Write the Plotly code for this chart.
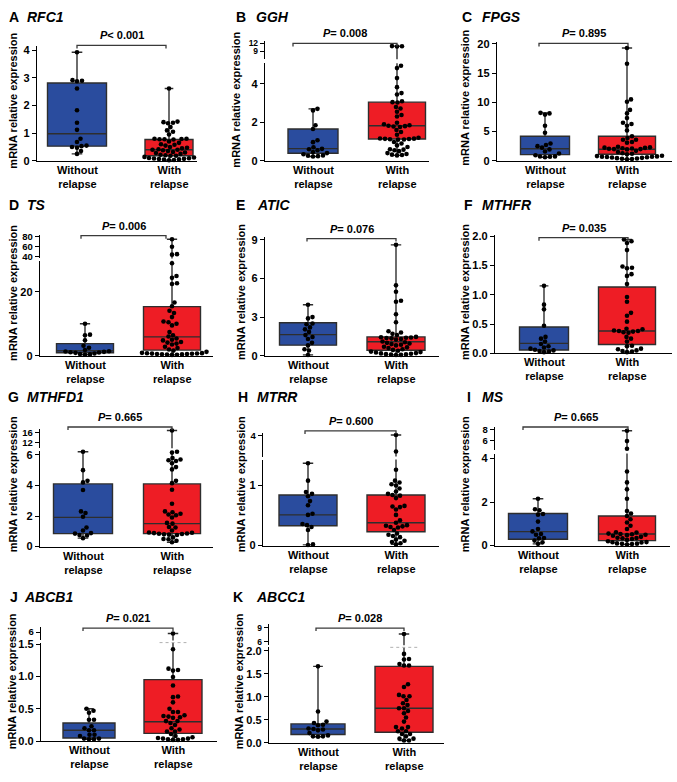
import numpy as np
import plotly.graph_objects as go

W, H = 677, 782
FONT = "Liberation Sans, Arial, Helvetica, sans-serif"

genes = ["RFC1", "GGH", "FPGS", "TS", "ATIC", "MTHFR", "MTHFD1", "MTRR", "MS", "ABCB1", "ABCC1"]
letters = ["A", "B", "C", "D", "E", "F", "G", "H", "I", "J", "K"]
p_texts = ["< 0.001", "= 0.008", "= 0.895", "= 0.006", "= 0.076", "= 0.035",
           "= 0.665", "= 0.600", "= 0.665", "= 0.021", "= 0.028"]
categories = ["Without<br>relapse", "With<br>relapse"]
y_title = "mRNA relative expression"

# ---------------- data ----------------
rfc1_without = [3.93, 2.92, 2.90, 2.88, 2.62, 1.83, 1.38, 1.12, 0.80, 0.68, 0.55, 0.53, 0.50, 0.47, 0.35, 0.25]
rfc1_with = [2.62, 1.42, 1.40, 1.38, 1.36, 1.22, 1.10, 1.05, 0.95, 0.80, 0.80, 0.79, 0.78, 0.78, 0.77, 0.70,
             0.65, 0.60, 0.58, 0.55, 0.50, 0.47, 0.45, 0.42, 0.40, 0.40, 0.38, 0.35, 0.32, 0.30, 0.28, 0.25,
             0.22, 0.20, 0.18, 0.18, 0.16, 0.14, 0.12, 0.10, 0.09, 0.08, 0.07, 0.06, 0.05, 0.04, 0.03, 0.02]
ggh_without = [2.70, 2.62, 1.85, 1.65, 1.07, 0.97, 0.70, 0.62, 0.60, 0.55, 0.46, 0.40, 0.34, 0.28, 0.26, 0.24, 0.22]
ggh_with = [11.0, 10.95, 10.85, 4.94, 4.82, 4.30, 3.83, 3.52, 3.45, 3.10, 3.05, 3.03, 2.80, 2.72, 2.55, 2.38,
            2.30, 1.98, 1.90, 1.85, 1.82, 1.80, 1.78, 1.76, 1.60, 1.50, 1.35, 1.20, 1.16, 1.15, 1.14, 1.13,
            1.12, 1.11, 1.10, 0.98, 0.90, 0.80, 0.72, 0.60, 0.58, 0.55, 0.50, 0.40, 0.35, 0.32, 0.30, 0.28]
fpgs_without = [8.2, 8.1, 7.9, 6.0, 4.8, 2.95, 2.7, 2.5, 2.25, 1.95, 1.6, 1.25, 0.95, 0.75, 0.72, 0.68, 0.6]
fpgs_with = [19.3, 16.6, 10.5, 10.1, 8.7, 8.1, 7.3, 6.5, 6.3, 6.0, 5.2, 4.2, 3.9, 3.6, 3.6, 3.2, 3.1, 2.4,
             2.3, 2.25, 2.2, 2.15, 2.1, 2.05, 2.0, 2.0, 1.95, 1.7, 1.5, 1.3, 1.2, 1.1, 0.85, 0.8, 0.75, 0.7,
             0.7, 0.65, 0.6, 0.55, 0.5, 0.45, 0.4, 0.35, 0.3, 0.25]
ts_without = [10.0, 6.6, 6.4, 4.85, 3.1, 2.5, 1.75, 1.4, 1.3, 1.2, 1.1, 1.0, 0.9, 0.7, 0.5, 0.4, 0.3]
ts_with = [75.0, 60.0, 45.5, 44.5, 29.0, 25.0, 24.4, 22.7, 22.5, 16.7, 15.5, 14.1, 13.4, 12.1, 10.7, 10.5,
           10.0, 9.5, 7.4, 6.4, 6.0, 5.4, 5.0, 4.8, 4.3, 4.1, 3.8, 3.5, 2.8, 2.4, 1.96, 1.6, 1.2, 0.9, 0.8,
           0.75, 0.7, 0.65, 0.6, 0.55, 0.5, 0.45, 0.4, 0.35, 0.3, 0.25]
atic_without = [3.96, 3.0, 2.9, 2.5, 2.45, 2.2, 2.05, 1.85, 1.6, 1.45, 1.3, 1.0, 0.8, 0.5, 0.4, 0.05]
atic_with = [8.62, 5.47, 4.97, 4.27, 4.2, 3.22, 2.6, 1.9, 1.8, 1.7, 1.6, 1.46, 1.44, 1.42, 1.4, 1.38, 1.35,
             1.3, 1.25, 1.1, 1.05, 1.0, 0.95, 0.9, 0.85, 0.8, 0.7, 0.65, 0.6, 0.5, 0.45, 0.38, 0.32, 0.28,
             0.25, 0.2, 0.18, 0.15, 0.12, 0.1, 0.08, 0.06, 0.05]
mthfr_without = [1.15, 0.83, 0.75, 0.47, 0.28, 0.25, 0.2, 0.16, 0.12, 0.1, 0.08, 0.06, 0.05, 0.04, 0.03, 0.02]
mthfr_with = [1.94, 1.91, 1.88, 1.76, 1.48, 1.46, 1.45, 1.35, 1.32, 1.18, 0.96, 0.88, 0.69, 0.64, 0.54, 0.42,
              0.41, 0.39, 0.38, 0.38, 0.37, 0.36, 0.35, 0.28, 0.25, 0.2, 0.13, 0.12, 0.08, 0.07, 0.05, 0.04,
              0.03, 0.02]
mthfd1_without = [6.2, 5.0, 4.3, 4.2, 3.7, 2.3, 2.2, 1.95, 1.25, 1.05, 0.88, 0.85, 0.75, 0.72, 0.55]
mthfd1_with = [17.0, 6.2, 6.15, 5.8, 5.7, 5.65, 5.6, 5.45, 5.2, 5.05, 4.3, 4.15, 3.72, 2.8, 2.3, 2.25, 2.15,
               2.1, 2.05, 1.9, 1.55, 1.5, 1.28, 1.25, 1.05, 0.92, 0.9, 0.88, 0.86, 0.84, 0.82, 0.8, 0.78,
               0.76, 0.6, 0.5, 0.48, 0.38, 0.28]
mtrr_without = [1.37, 1.08, 0.89, 0.86, 0.82, 0.74, 0.67, 0.53, 0.51, 0.36, 0.34, 0.31, 0.26, 0.02, 0.01]
mtrr_with = [4.05, 2.1, 1.26, 1.08, 1.05, 1.02, 1.0, 0.95, 0.9, 0.86, 0.84, 0.83, 0.79, 0.66, 0.65, 0.64,
             0.6, 0.51, 0.42, 0.38, 0.34, 0.33, 0.32, 0.31, 0.3, 0.26, 0.2, 0.18, 0.16, 0.14, 0.1, 0.08,
             0.06, 0.04, 0.02]
ms_without = [2.15, 1.67, 1.62, 1.45, 1.42, 1.1, 0.76, 0.65, 0.53, 0.5, 0.35, 0.33, 0.23, 0.15, 0.08]
ms_with = [7.8, 5.9, 4.5, 3.4, 2.9, 2.58, 2.15, 1.59, 1.47, 1.36, 1.21, 1.06, 0.91, 0.76, 0.61, 0.6, 0.55,
           0.53, 0.52, 0.5, 0.48, 0.45, 0.4, 0.36, 0.35, 0.34, 0.3, 0.26, 0.2, 0.16, 0.15, 0.14, 0.1, 0.09,
           0.08, 0.07, 0.05]
abcb1_without = [0.5, 0.47, 0.44, 0.33, 0.33, 0.23, 0.2, 0.17, 0.17, 0.1, 0.1, 0.08, 0.04, 0.04, 0.03, 0.03]
abcb1_with = [5.6, 1.42, 1.12, 1.1, 1.09, 0.99, 0.86, 0.69, 0.68, 0.6, 0.5, 0.45, 0.45, 0.4, 0.39, 0.38,
              0.37, 0.36, 0.31, 0.31, 0.28, 0.25, 0.2, 0.18, 0.15, 0.15, 0.11, 0.08, 0.06, 0.05, 0.04,
              0.04, 0.03, 0.03, 0.02, 0.02]
abcc1_without = [1.66, 0.68, 0.46, 0.43, 0.39, 0.38, 0.31, 0.3, 0.29, 0.27, 0.21, 0.16, 0.14, 0.14, 0.13]
abcc1_with = [7.7, 1.93, 1.82, 1.81, 1.71, 1.68, 1.68, 1.27, 1.21, 1.04, 1.01, 1.01, 0.93, 0.86, 0.82, 0.75,
              0.75, 0.69, 0.64, 0.55, 0.46, 0.34, 0.34, 0.31, 0.25, 0.25, 0.19, 0.19, 0.14, 0.09, 0.09,
              0.05, 0.05]

# box statistics [q1, median, q3]
box_without = [[0.53, 0.98, 2.82], [0.39, 0.63, 1.65], [1.06, 2.07, 4.2], [0.93, 1.55, 3.8],
               [0.82, 1.64, 2.56], [0.056, 0.17, 0.45], [0.85, 1.91, 4.1], [0.33, 0.51, 0.84],
               [0.29, 0.64, 1.47], [0.05, 0.17, 0.28], [0.18, 0.30, 0.41]]
box_with = [[0.18, 0.40, 0.77], [1.13, 1.82, 3.05], [1.12, 1.96, 4.2], [1.75, 5.9, 15.4],
            [0.42, 1.08, 1.46], [0.15, 0.38, 1.13], [0.85, 1.5, 4.1], [0.23, 0.38, 0.84],
            [0.23, 0.53, 1.36], [0.12, 0.30, 0.95], [0.23, 0.75, 1.66]]

values_without = [rfc1_without, ggh_without, fpgs_without, ts_without, atic_without, mthfr_without,
                  mthfd1_without, mtrr_without, ms_without, abcb1_without, abcc1_without]
values_with = [rfc1_with, ggh_with, fpgs_with, ts_with, atic_with, mthfr_with,
               mthfd1_with, mtrr_with, ms_with, abcb1_with, abcc1_with]

# lower / upper axis segments (value ranges) and ticks
lower_ticks = [[0, 1, 2, 3, 4], [0, 2, 4], [0, 5, 10, 15, 20], [0, 20], [0, 3, 6, 9],
               [0, 0.5, 1.0, 1.5, 2.0], [0, 2, 4, 6], [0, 1], [0, 2, 4], [0, 0.5, 1.0, 1.5],
               [0, 0.5, 1.0, 1.5, 2.0]]
upper_ranges = [None, [6.0, 12.75], None, [37.1, 82.9], None, None, [9.8, 17.6], [1.5, 4.3],
                [4.2, 8.45], [3.5, 7.5], [5.27, 9.8]]
upper_ticks = [None, [9, 12], None, [40, 60, 80], None, None, [12, 16], [4], [6, 8], [6], [6, 9]]
upper_tick_size = [None, 8.5, None, 9.5, None, None, 9.5, 9.5, 9.5, 9.5, 8.5]
tick_formats = ["", "", "", "", "", ".1f", "", "", "", ".1f", ".1f"]

# ---------------- layout geometry (pixels) ----------------
geom = [
    dict(ax=(37, 197), c=(77, 169), w=(59, 48), zero=158, scale=28, ltop=42, up=None,
         br=(77, 166, 41), title=(7, 25, 12), yt=(13, 97)),
    dict(ax=(265, 429), c=(313, 397), w=(50, 57), zero=158, scale=19.5, ltop=59, up=(55, 37),
         br=(293, 397, 39), title=(234, 254, 12), yt=(236, 96)),
    dict(ax=(497, 672), c=(545, 627), w=(49, 57), zero=158, scale=5.93, ltop=38, up=None,
         br=(539, 628, 39), title=(460, 480, 12), yt=(465, 94)),
    dict(ax=(40, 213), c=(85, 172), w=(57, 57), zero=355.7, scale=3.235, ltop=259.5, up=(257, 233.5),
         br=(81, 166, 234), title=(7, 25, 203), yt=(13, 292)),
    dict(ax=(265, 439), c=(308, 396), w=(57, 58), zero=355.7, scale=13.04, ltop=235, up=None,
         br=(307, 396, 237), title=(234, 255, 203), yt=(241, 291)),
    dict(ax=(495, 672), c=(544, 627), w=(49, 57), zero=353.3, scale=59.5, ltop=233, up=None,
         br=(539, 628, 236), title=(462, 480, 203), yt=(465, 291)),
    dict(ax=(40, 213), c=(83, 172), w=(59, 57), zero=549.3, scale=15.5, ltop=452, up=(449.5, 430),
         br=(68, 172, 428), title=(6, 25, 398), yt=(13, 486)),
    dict(ax=(263, 439), c=(308, 396), w=(58, 58), zero=548.3, scale=61, ltop=461, up=(458, 434),
         br=(305, 396, 432), title=(236, 255, 398), yt=(241, 486)),
    dict(ax=(495, 670), c=(538, 627), w=(59, 57), zero=548.3, scale=22.1, ltop=455, up=(451.7, 428.3),
         br=(523, 628, 428), title=(465, 480, 398), yt=(465, 486)),
    dict(ax=(41, 217), c=(89, 173), w=(52, 58), zero=746.7, scale=65.7, ltop=646.7, up=(644.5, 631),
         br=(83, 173, 632), title=(8, 22, 600), yt=(12, 686), dotted=True),
    dict(ax=(269, 444), c=(318, 404), w=(54, 58), zero=748.3, scale=46.7, ltop=651.5, up=(649.5, 628),
         br=(316, 404, 632), title=(231, 254, 600), yt=(239, 686), dotted=True),
]

BLUE = "#2a4c9e"
RED = "#ee1d25"
LINE = "#2e2e2e"
DOT_D = 4.6


def px_x(p):
    return p / W


def px_y(p):
    return 1 - p / H


def swarm(vals, ypx, d):
    """Greedy beeswarm: horizontal pixel offsets so that dots do not overlap."""
    order = np.argsort(vals, kind="stable")
    placed = []
    offs = np.zeros(len(vals))
    cands = [0.0]
    for j in range(1, 400):
        cands += [j * 0.5, -j * 0.5]
    for i in order:
        y = ypx(vals[i])
        for c in cands:
            if all((c - px) ** 2 + (y - py) ** 2 >= d * d for px, py in placed):
                break
        placed.append((c, y))
        offs[i] = c
    return offs


fig = go.Figure()
layout = dict(width=W, height=H, margin=dict(l=0, r=0, t=0, b=0), showlegend=False,
              plot_bgcolor="white", paper_bgcolor="white",
              font=dict(family=FONT, size=11, color="black"))
shapes, annotations = [], []


def yaxis_style(size):
    return dict(showgrid=False, zeroline=False, showline=True, linecolor="black", linewidth=1.4,
                ticks="outside", ticklen=4, tickwidth=1.3, tickcolor="black", fixedrange=True,
                tickfont=dict(family=FONT, size=size, color="black", weight="bold"))


for i, g in enumerate(geom):
    n = i + 1
    xk = "x" if n == 1 else f"x{n}"
    yk = "y" if n == 1 else f"y{n}"
    uk = f"y{n + 11}"
    s = g["c"][1] - g["c"][0]
    ax0, ax1 = g["ax"]
    xr = [1 - (g["c"][0] - ax0) / s, 2 + (ax1 - g["c"][1]) / s]
    lo_top = (g["zero"] - g["ltop"]) / g["scale"]

    layout["xaxis" + ("" if n == 1 else str(n))] = dict(
        domain=[px_x(ax0), px_x(ax1)], range=xr, anchor=yk, showgrid=False, zeroline=False,
        showline=True, linecolor="black", linewidth=1.4, ticks="", showticklabels=False,
        fixedrange=True)
    layout["yaxis" + ("" if n == 1 else str(n))] = dict(
        yaxis_style(11), domain=[px_y(g["zero"]), px_y(g["ltop"])], range=[0, lo_top], anchor=xk,
        tickvals=lower_ticks[i], tickformat=tick_formats[i])

    ur = upper_ranges[i]
    if ur is not None:
        ub, ut = g["up"]
        layout["yaxis" + str(n + 11)] = dict(
            yaxis_style(upper_tick_size[i]), domain=[px_y(ub), px_y(ut)], range=ur, anchor=xk,
            tickvals=upper_ticks[i])

    def ypx(v, g=g, ur=ur, lo_top=lo_top):
        if ur is not None and v > lo_top:
            ub, ut = g["up"]
            return ub - (v - ur[0]) * (ub - ut) / (ur[1] - ur[0])
        return g["zero"] - v * g["scale"]

    groups = [(values_without[i], box_without[i], BLUE, 1, g["w"][0]),
              (values_with[i], box_with[i], RED, 2, g["w"][1])]
    for vals, bst, col, cat, wpx in groups:
        vals = np.array(vals, dtype=float)
        # boxes (drawn on both segments; each subplot clips its own part)
        targets = [yk] + ([uk] if ur is not None else [])
        for yy in targets:
            fig.add_trace(go.Box(
                x=[cat], q1=[bst[0]], median=[bst[1]], q3=[bst[2]],
                lowerfence=[vals.min()], upperfence=[vals.max()],
                width=wpx / s, fillcolor=col, line=dict(color=LINE, width=1.4),
                whiskerwidth=0.18, boxpoints=False, hoverinfo="skip",
                xaxis=xk, yaxis=yy))
        offs = swarm(vals, ypx, DOT_D)
        xs = cat + offs / s
        if ur is not None:
            low = vals <= lo_top
        else:
            low = np.ones(len(vals), dtype=bool)
        fig.add_trace(go.Scatter(x=xs[low], y=vals[low], mode="markers", cliponaxis=False,
                                 marker=dict(size=DOT_D, color="black"), hoverinfo="skip",
                                 xaxis=xk, yaxis=yk))
        if ur is not None and (~low).any():
            fig.add_trace(go.Scatter(x=xs[~low], y=vals[~low], mode="markers", cliponaxis=False,
                                     marker=dict(size=DOT_D, color="black"), hoverinfo="skip",
                                     xaxis=xk, yaxis=uk))

    # category labels under the x axis
    for cat, lab in zip([1, 2], categories):
        annotations.append(dict(xref=xk, yref="paper", x=cat, y=px_y(g["zero"] + 1),
                                xanchor="center", yanchor="top", showarrow=False, align="center",
                                text=f"<b>{lab}</b>", font=dict(family=FONT, size=11, color="black")))

    # dotted break indicator
    if g.get("dotted"):
        shapes.append(dict(type="line", xref=xk, yref="paper", x0=2 - 0.16, x1=2 + 0.16,
                           y0=px_y(g["ltop"]), y1=px_y(g["ltop"]),
                           line=dict(color="#b0b0b0", width=1, dash="dot")))

    # significance bracket
    bx0, bx1, by = g["br"]
    shapes.append(dict(type="path", xref="paper", yref="paper",
                       path=f"M{px_x(bx0)},{px_y(by + 3)} L{px_x(bx0)},{px_y(by)} "
                            f"L{px_x(bx1)},{px_y(by)} L{px_x(bx1)},{px_y(by + 3)}",
                       line=dict(color="#3a3a3a", width=1.3)))
    annotations.append(dict(xref="paper", yref="paper", x=px_x((bx0 + bx1) / 2), y=px_y(by - 2),
                            xanchor="center", yanchor="bottom", showarrow=False,
                            text=f"<b><i>P</i>{p_texts[i]}</b>",
                            font=dict(family=FONT, size=11, color="black")))
    # panel title
    lx, gx, ty = g["title"]
    annotations.append(dict(xref="paper", yref="paper", x=px_x(lx), y=px_y(ty), xanchor="left",
                            yanchor="middle", showarrow=False, text=f"<b>{letters[i]}</b>",
                            font=dict(family=FONT, size=14, color="black")))
    annotations.append(dict(xref="paper", yref="paper", x=px_x(gx), y=px_y(ty), xanchor="left",
                            yanchor="middle", showarrow=False, text=f"<b><i>{genes[i]}</i></b>",
                            font=dict(family=FONT, size=14, color="black")))
    # y title
    tx, tyc = g["yt"]
    annotations.append(dict(xref="paper", yref="paper", x=px_x(tx), y=px_y(tyc), xanchor="center",
                            yanchor="middle", showarrow=False, textangle=-90, text=f"<b>{y_title}</b>",
                            font=dict(family=FONT, size=11, color="black")))

layout["shapes"] = shapes
layout["annotations"] = annotations
layout["boxmode"] = "overlay"
fig.update_layout(**layout)
fig.write_html("out.html", config={"displayModeBar": False},
               post_script="document.body.style.margin='0px';document.body.style.overflow='hidden';")
